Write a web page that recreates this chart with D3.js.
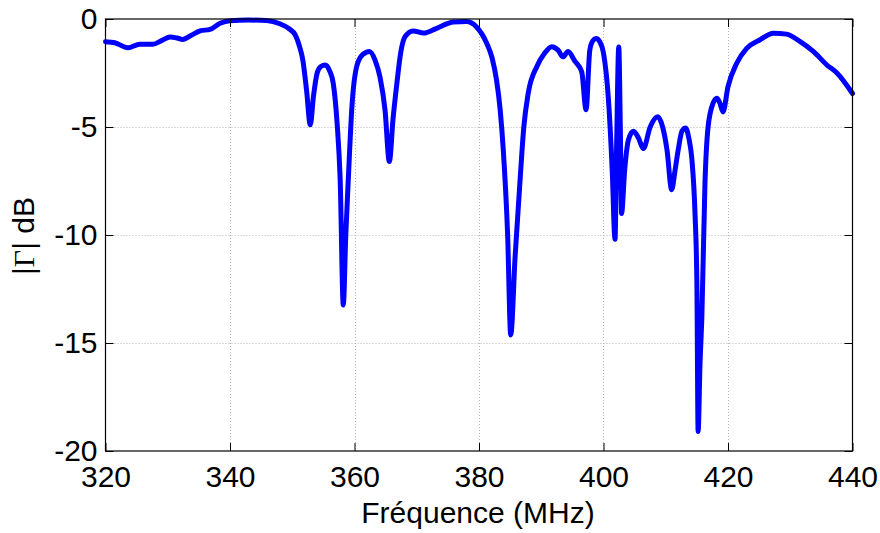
<!DOCTYPE html>
<html>
<head>
<meta charset="utf-8">
<script src="https://cdn.jsdelivr.net/npm/d3@7"></script>
<style>
  html, body { margin: 0; padding: 0; background: #fff; }
  svg { display: block; }
  text { font-family: "Liberation Sans", Arial, Helvetica, sans-serif; fill: #000; }
</style>
</head>
<body>
<svg id="chart" width="880" height="533"></svg>
<script>
// ---- data ----
const freqMHz = [
  320, 321.5, 323.6, 325.5, 327.6, 329, 330.4, 331.5, 332.4, 333.8,
  335.2, 336.8, 338.4, 340, 343, 345.9, 348, 349.5, 350.5, 351.2,
  351.7, 352.3, 352.9, 353.4, 354, 354.6, 355.3, 356, 356.6, 357.2,
  357.7, 358.2, 358.6, 359.0, 359.6, 360.35, 361.3, 362.4, 363.3, 364.1,
  364.9, 365.6, 366.2, 366.8, 367.4, 368.1, 369.4, 371.1, 373.2, 375.9,
  378.0, 379.6, 381.2, 382.1, 382.8, 383.4, 383.9, 384.6, 385.1, 385.8,
  386.6, 387.2, 387.9, 389.3, 390.5, 391.7, 392.7, 393.5, 394.3, 395.4,
  396.5, 397.2, 397.8, 398.3, 398.8, 399.4, 400.0, 400.8, 401.4, 401.85,
  402.1, 402.45, 402.7, 402.9, 403.4, 404.0, 404.8, 405.6, 406.4, 407.5,
  408.7, 409.5, 410.2, 410.95, 411.5, 412.0, 412.6, 413.2, 413.7, 414.2,
  414.7, 415.0, 415.2, 415.5, 415.8, 416.3, 416.8, 417.6, 418.2, 418.7,
  419.2, 420.0, 421.4, 423.0, 425.1, 427.3, 429.4, 431.6, 433.7, 435.9,
  437.5, 440
];
const gammaDb = [
  -1.05, -1.1, -1.33, -1.17, -1.17, -1.0, -0.83, -0.88, -0.95, -0.75,
  -0.55, -0.48, -0.2, -0.08, -0.05, -0.07, -0.22, -0.45, -0.75, -1.3,
  -1.9, -3.3, -4.9, -3.6, -2.5, -2.2, -2.13, -2.4, -3.0, -4.8,
  -7.45, -13.24, -10.0, -7.45, -4.0, -2.2, -1.65, -1.5, -1.9, -2.7,
  -4.2, -6.6, -4.6, -3.0, -1.6, -0.83, -0.55, -0.65, -0.43, -0.14,
  -0.12, -0.37, -1.1, -1.8, -2.8, -4.2, -6.06, -10.0, -14.63, -11.0,
  -7.45, -5.0, -3.45, -2.2, -1.6, -1.28, -1.44, -1.75, -1.5, -1.95,
  -2.44, -4.2, -1.44, -1.0, -0.9, -1.05, -1.58, -3.75, -7.0, -10.2,
  -6.0, -1.3, -5.0, -9.0, -7.0, -5.6, -5.2, -5.5, -6.0, -5.0,
  -4.53, -5.0, -6.06, -7.9, -7.0, -6.06, -5.2, -5.05, -5.5, -6.5,
  -9.0, -12.2, -19.1, -16.0, -13.8, -7.6, -5.0, -3.9, -3.67, -3.9,
  -4.3, -3.13, -2.05, -1.36, -0.97, -0.66, -0.7, -1.05, -1.5, -2.13,
  -2.5, -3.45
];
const xTicks = [320, 340, 360, 380, 400, 420, 440];
const yTicks = [0, -5, -10, -15, -20];
const xLabel = "Fréquence (MHz)";

// ---- layout ----
const svg = d3.select("#chart");
const pL = 105.5, pR = 852.5, pT = 19, pB = 451;
const x = d3.scaleLinear().domain([320, 440]).range([pL, pR]);
const y = d3.scaleLinear().domain([-20, 0]).range([pB, pT]);
const fontSize = 30;

// grid
const grid = svg.append("g").attr("stroke", "#b4b4b4").attr("stroke-width", 1)
  .attr("stroke-dasharray", "1,2");
grid.selectAll("line.gx").data(xTicks.filter(d => d > 320 && d < 440)).join("line")
  .attr("class", "gx")
  .attr("x1", d => Math.round(x(d)) + 0.5).attr("x2", d => Math.round(x(d)) + 0.5)
  .attr("y1", pT).attr("y2", pB);
grid.selectAll("line.gy").data(yTicks.filter(d => d < 0 && d > -20)).join("line")
  .attr("class", "gy")
  .attr("y1", d => Math.round(y(d)) + 0.5).attr("y2", d => Math.round(y(d)) + 0.5)
  .attr("x1", pL).attr("x2", pR);

// curve
const data = freqMHz.map((f, i) => ({ f, v: gammaDb[i] }));
const line = d3.line().x(d => x(d.f)).y(d => y(d.v)).curve(d3.curveMonotoneX);
svg.append("path").datum(data)
  .attr("d", line)
  .attr("fill", "none")
  .attr("stroke", "#0000ff")
  .attr("stroke-width", 5)
  .attr("stroke-linejoin", "round")
  .attr("stroke-linecap", "round");

// axes
function styleAxis(g) {
  g.select(".domain").remove();
  g.selectAll(".tick line").attr("stroke", "#000").attr("stroke-width", 1);
  g.selectAll("text").style("font-size", fontSize + "px")
    .style("font-family", '"Liberation Sans", Arial, Helvetica, sans-serif').attr("fill", "#000");
}
svg.append("g").attr("transform", `translate(0,${pB})`)
  .call(d3.axisBottom(x).tickValues(xTicks).tickSize(-8).tickPadding(15).tickFormat(d => String(d)))
  .call(styleAxis);
svg.append("g").attr("transform", `translate(0,${pT})`)
  .call(d3.axisTop(x).tickValues(xTicks).tickSize(-8).tickFormat(""))
  .call(styleAxis);
svg.append("g").attr("transform", `translate(${pL},0)`)
  .call(d3.axisLeft(y).tickValues(yTicks).tickSize(-8).tickPadding(8).tickFormat(d => String(d)))
  .call(styleAxis);
svg.append("g").attr("transform", `translate(${pR},0)`)
  .call(d3.axisRight(y).tickValues(yTicks).tickSize(-8).tickFormat(""))
  .call(styleAxis);

// frame
svg.append("rect").attr("x", pL).attr("y", pT)
  .attr("width", pR - pL).attr("height", pB - pT)
  .attr("fill", "none").attr("stroke", "#000").attr("stroke-width", 1.2);

// axis titles
svg.append("text").attr("x", 478).attr("y", 523)
  .attr("text-anchor", "middle").style("font-size", fontSize + "px").text(xLabel);

const yl = svg.append("text")
  .attr("transform", "translate(34,236) rotate(-90)")
  .attr("text-anchor", "middle").style("font-size", fontSize + "px");
yl.append("tspan").text("|");
yl.append("tspan").style("font-family", '"Liberation Serif", "DejaVu Serif", serif').text("Γ");
yl.append("tspan").text("| dB");
</script>
</body>
</html>
